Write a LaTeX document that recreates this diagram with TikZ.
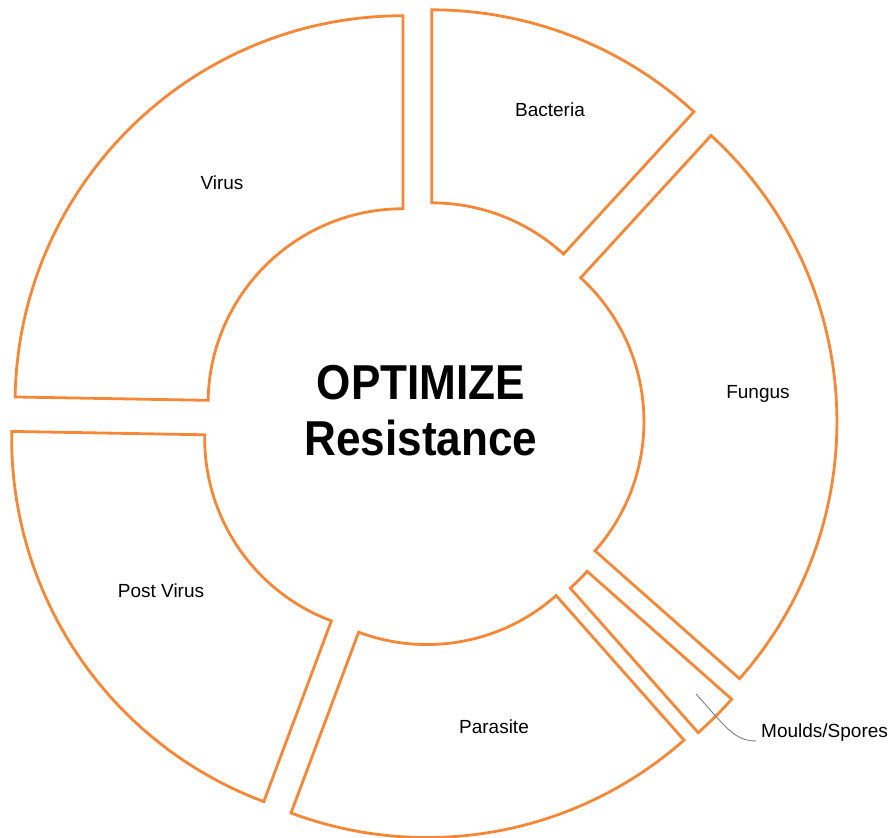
\documentclass[tikz,border=0pt]{standalone}
\usepackage{fontspec}
\setmainfont{Liberation Sans}
\newfontfamily\titlefont{Liberation Sans}[FakeStretch=0.9]
\definecolor{segorange}{RGB}{245,135,55}
\definecolor{leadgray}{RGB}{128,128,128}
\tikzset{
  segline/.style={draw=segorange, line width=2.8pt, line join=miter},
  seglabel/.style={font=\fontsize{19}{21}\selectfont, text=black, inner sep=0pt},
  titletext/.style={font=\titlefont\bfseries\fontsize{49}{52}\selectfont, anchor=base, inner sep=0pt},
  leader/.style={draw=leadgray, line width=0.9pt}
}
\newcommand{\donutseg}[2]{%
  \begin{scope}[shift={({(#1+#2)/2}:27)}]
    \draw[segline] (#1:195) -- (#1:388) arc[start angle=#1, end angle=#2, radius=388]
      -- (#2:195) arc[start angle=#2, end angle=#1, radius=195] -- cycle;
  \end{scope}}
\begin{document}
\begin{tikzpicture}[x=1pt,y=1pt]
  \useasboundingbox (-422,-414) rectangle (468,423);
  % segments
  \donutseg{90}{179}
  \donutseg{47.5}{90}
  \donutseg{-41.5}{47.5}
  \donutseg{-48.5}{-41.5}
  \donutseg{-110.5}{-48.5}
  \donutseg{179}{249.5}
  % labels
  \node[seglabel] (virus) at (-200,240) {Virus};
  \node[seglabel] (bacteria) at (128,313) {Bacteria};
  \node[seglabel] (fungus) at (336,29) {Fungus};
  \node[seglabel] (postvirus) at (-261,-168) {Post Virus};
  \node[seglabel] (parasite) at (72,-304) {Parasite};
  \node[seglabel, anchor=west] (moulds) at (339,-310) {Moulds/Spores};
  % leader
  \coordinate (mpt) at (274,-271);
  \draw[leader] (mpt) .. controls (303,-303) and (312,-318) .. ([xshift=-5pt,yshift=-8pt]moulds.west);
  % centre title
  \node[titletext] (opt) at (-1,23) {OPTIMIZE};
  \node[titletext] (res) at (-1,-32) {Resistance};
\end{tikzpicture}
\end{document}
